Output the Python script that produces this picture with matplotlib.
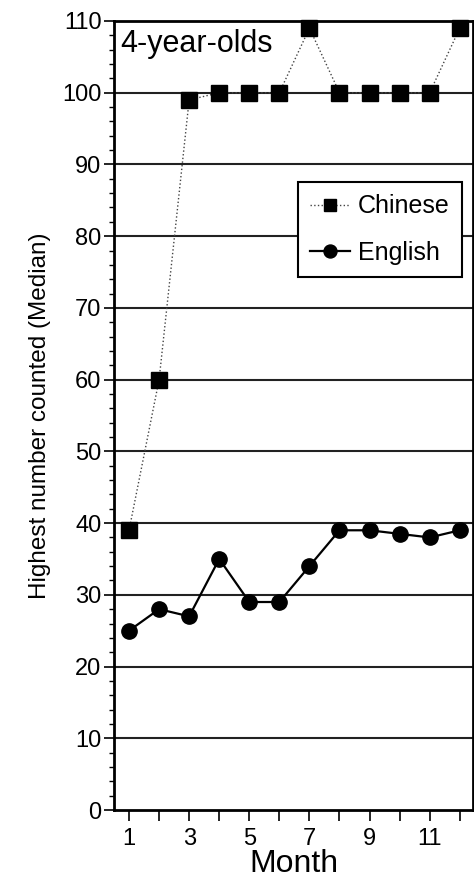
import matplotlib
matplotlib.use("Agg")
import matplotlib.pyplot as plt
from matplotlib.ticker import MultipleLocator

plt.rcParams['font.family'] = ['Liberation Sans', 'DejaVu Sans']

# data
months = [1, 2, 3, 4, 5, 6, 7, 8, 9, 10, 11, 12]
chinese = [39, 60, 99, 100, 100, 100, 109, 100, 100, 100, 100, 109]
english = [25, 28, 27, 35, 29, 29, 34, 39, 39, 38.5, 38, 39]
xtick_labels = [1, 3, 5, 7, 9, 11]

fig = plt.figure(figsize=(4.74, 8.82), dpi=100)
ax = fig.add_axes([0.2405, 0.0816, 0.758, 0.8946])

# horizontal grid lines at each 10
for yv in range(10, 110, 10):
    ax.axhline(yv, color='#222222', lw=1.5, zorder=1)

ax.plot(months, chinese, color='#444444', ls=':', lw=1.0, marker='s',
        markersize=11, markerfacecolor='black', markeredgecolor='black',
        label='Chinese', clip_on=False, zorder=3)
ax.plot(months, english, color='black', ls='-', lw=1.6, marker='o',
        markersize=11, markerfacecolor='black', markeredgecolor='black',
        label='English', clip_on=False, zorder=3)

ax.set_xlim(0.5, 12.45)
ax.set_ylim(0, 110)
ax.set_xticks(xtick_labels)
ax.xaxis.set_minor_locator(MultipleLocator(1))
ax.yaxis.set_major_locator(MultipleLocator(10))
ax.yaxis.set_minor_locator(MultipleLocator(2))
ax.tick_params(axis='both', which='major', direction='out', length=7,
               width=1.2, labelsize=17, colors='black')
ax.tick_params(axis='y', which='minor', direction='out', length=3.5, width=1.0)
ax.tick_params(axis='x', which='minor', direction='out', length=8, width=1.2)
ax.tick_params(axis='x', which='major', length=8, pad=5)
ax.tick_params(axis='y', which='major', pad=2)

for s in ax.spines.values():
    s.set_linewidth(2)

ax.set_xlabel('Month', fontsize=23, labelpad=-1)
ax.set_ylabel('Highest number counted (Median)', fontsize=17.5, labelpad=8)

ax.text(0.017, 0.99, '4-year-olds', transform=ax.transAxes, fontsize=22,
        va='top', ha='left')

leg = ax.legend(loc='upper right', bbox_to_anchor=(0.969, 0.796), fontsize=18,
                frameon=True, fancybox=False, edgecolor='black',
                handlelength=1.6, borderpad=0.5, labelspacing=0.9,
                handletextpad=0.3, borderaxespad=0, markerscale=0.85)
leg.get_frame().set_linewidth(1.5)
leg.get_frame().set_alpha(1)

fig.savefig('out.png', dpi=100)
